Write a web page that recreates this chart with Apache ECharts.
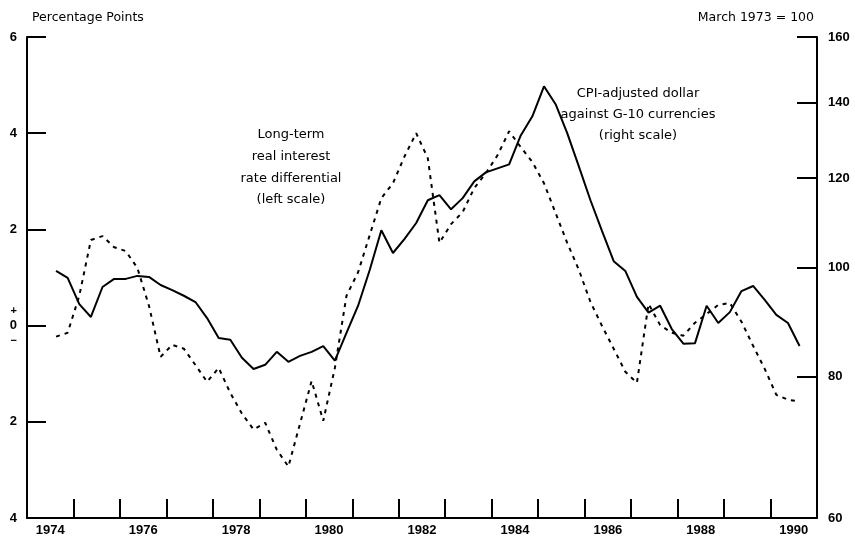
<!DOCTYPE html>
<html>
<head>
<meta charset="utf-8">
<script src="https://cdn.jsdelivr.net/npm/echarts@6/dist/echarts.min.js"></script>
<style>html,body{margin:0;padding:0;background:#fff}#c{width:855px;height:540px}</style>
</head>
<body>
<div id="c"></div>
<script>
// quarterly observations, 1974Q3 .. 1990Q3 (plotted at mid-quarter)
const startYear = 1974, startQuarter = 3;
// CPI-adjusted dollar against G-10 currencies, March 1973 = 100 (right scale)
const dollarIndex = [
  99.3, 97.9,
  92.8, 90.4, 96.1, 97.7,
  97.7, 98.3, 98.1, 96.5,
  95.5, 94.4, 93.2, 90.2,
  86.6, 86.3, 83.2, 81.3,
  82.0, 84.2, 82.5, 83.5,
  84.2, 85.2, 82.7, 87.5,
  92.5, 99.5, 107.9, 103.0,
  106.0, 109.5, 114.7, 115.9,
  112.6, 115.2, 119.2, 121.4,
  122.4, 123.4, 130.9, 136.1,
  144.7, 139.5, 131.5, 122.9,
  114.7, 107.7, 101.3, 99.3,
  94.2, 91.2, 92.5, 88.2,
  85.6, 85.7, 92.5, 89.3,
  91.3, 95.3, 96.3, 93.6,
  90.8, 89.3, 85.2
];
// Long-term real interest rate differential, percentage points (left scale)
const rateDiff = [
  -0.23, -0.15,
  0.62, 1.78, 1.86, 1.63,
  1.55, 1.20, 0.41, -0.65,
  -0.40, -0.48, -0.82, -1.17,
  -0.88, -1.40, -1.83, -2.16,
  -2.02, -2.58, -2.93, -2.04,
  -1.15, -1.98, -0.88, 0.62,
  1.11, 1.88, 2.65, 2.96,
  3.52, 4.00, 3.48, 1.72,
  2.11, 2.36, 2.86, 3.17,
  3.54, 4.04, 3.71, 3.40,
  2.96, 2.34, 1.72, 1.16,
  0.49, -0.01, -0.48, -0.96,
  -1.19, 0.45, 0.01, -0.15,
  -0.21, 0.06, 0.24, 0.43,
  0.47, 0.08, -0.42, -0.90,
  -1.44, -1.54, -1.58
];
const yearLabels = [1974, 1976, 1978, 1980, 1982, 1984, 1986, 1988, 1990];
const yearTicks = [1975,1976,1977,1978,1979,1980,1981,1982,1983,1984,1985,1986,1987,1988,1989,1990];
const rightTicks = [60, 80, 100, 120, 140, 160];
const leftTicks = [-4, -2, 0, 2, 4, 6];

const xs = dollarIndex.map((_, i) => startYear + (startQuarter - 1 + i) / 4 + 0.125);

const chart = echarts.init(document.getElementById('c'), null, {renderer: 'canvas'});
const font = 'Liberation Sans';
const wideFont = 'DejaVu Sans';
const axisLineStyle = {color: '#000', width: 2};
const labelStyle = {color: '#000', fontFamily: font, fontSize: 13, fontWeight: 'bold'};

chart.setOption({
  animation: false,
  backgroundColor: '#fff',
  textStyle: {fontFamily: font},
  grid: {left: 27, right: 38, top: 37, bottom: 22, containLabel: false},
  xAxis: {
    type: 'value', min: 1974, max: 1991,
    axisLine: {show: true, onZero: false, lineStyle: axisLineStyle},
    axisTick: {show: true, inside: true, length: 19, lineStyle: {color: '#000', width: 2}, customValues: yearTicks},
    axisLabel: Object.assign({show: true, margin: 6,
      customValues: yearLabels.map(y => y + 0.5),
      formatter: v => String(Math.floor(v))}, labelStyle),
    splitLine: {show: false}
  },
  yAxis: [
    {
      type: 'value', min: -4, max: 6, interval: 2, position: 'left',
      axisLine: {show: true, onZero: false, lineStyle: axisLineStyle},
      axisTick: {show: true, inside: true, length: 19, lineStyle: {color: '#000', width: 2}, customValues: leftTicks},
      axisLabel: Object.assign({show: true, margin: 10,
        customValues: leftTicks,
        formatter: v => v === 0 ? '{s|+}\n0\n{s|−}' : String(Math.abs(v)),
        lineHeight: 15,
        rich: {s: {fontSize: 11, fontFamily: font, fontWeight: 'bold', color: '#000', lineHeight: 15}}}, labelStyle),
      splitLine: {show: false}
    },
    {
      type: 'value', min: Math.log(60), max: Math.log(160), position: 'right',
      axisLine: {show: true, onZero: false, lineStyle: axisLineStyle},
      axisTick: {show: true, inside: true, length: 20, lineStyle: {color: '#000', width: 2},
        customValues: rightTicks.map(v => Math.log(v))},
      axisLabel: Object.assign({show: true, margin: 11,
        customValues: rightTicks.map(v => Math.log(v)),
        formatter: v => String(Math.round(Math.exp(v)))}, labelStyle),
      splitLine: {show: false}
    }
  ],
  series: [
    {
      type: 'line', yAxisIndex: 1, symbol: 'none',
      lineStyle: {color: '#000', width: 2},
      data: dollarIndex.map((v, i) => [xs[i], Math.log(v)])
    },
    {
      type: 'line', yAxisIndex: 0, symbol: 'none',
      lineStyle: {color: '#000', width: 2, type: [4, 5]},
      data: rateDiff.map((v, i) => [xs[i], v])
    }
  ],
  graphic: [
    {type: 'text', left: 32, top: 11, style: {text: 'Percentage Points', fontSize: 12.5, fontFamily: wideFont, fill: '#000'}},
    {type: 'text', right: 41, top: 11, style: {text: 'March 1973 = 100', fontSize: 12.5, fontFamily: wideFont, fill: '#000'}},
    {type: 'text', x: 291, y: 124, style: {text: 'Long-term\nreal interest\nrate differential\n(left scale)',
      fontSize: 13, fontFamily: wideFont, fill: '#000', align: 'center', lineHeight: 21.7}},
    {type: 'text', x: 638, y: 83, style: {text: 'CPI-adjusted dollar\nagainst G-10 currencies\n(right scale)',
      fontSize: 13, fontFamily: wideFont, fill: '#000', align: 'center', lineHeight: 21}}
  ]
});
</script>
</body>
</html>
